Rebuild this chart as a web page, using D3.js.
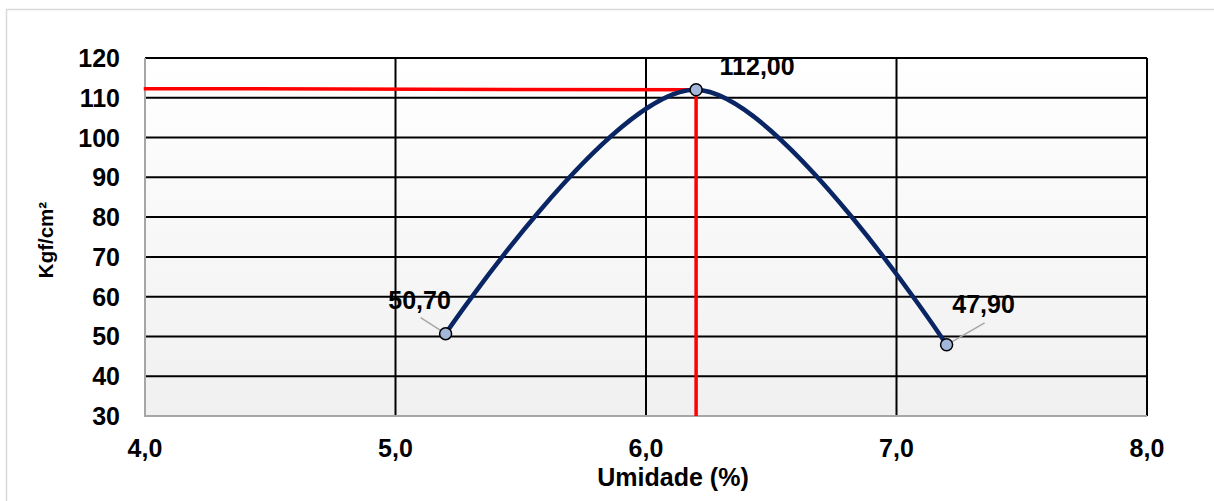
<!DOCTYPE html>
<html><head><meta charset="utf-8">
<script src="https://cdn.jsdelivr.net/npm/d3@7"></script>
<style>html,body{margin:0;padding:0;background:#fff;}svg{display:block;}</style>
</head><body>
<script>
const umidade = [5.2, 6.2, 7.2];
const resistencia = [50.70, 112.00, 47.90];
const labels = ["50,70", "112,00", "47,90"];
const refX = [3.995, 6.2, 6.2];
const refY = [112.3, 112.0, 30];
const xTicks = [4, 5, 6, 7, 8];
const yTicks = [30, 40, 50, 60, 70, 80, 90, 100, 110, 120];

const W = 1214, H = 501;
const svg = d3.select("body").append("svg").attr("width", W).attr("height", H);
const fmt1 = d => d.toFixed(1).replace(".", ",");

// outer frame
svg.append("rect").attr("x", 6.5).attr("y", 9.5).attr("width", 1300).attr("height", 600)
  .attr("fill", "#fff").attr("stroke", "#d9d9d9").attr("stroke-width", 1.5);

const L = 145, R = 1147, T = 58, B = 416;
const x = d3.scaleLinear().domain([4, 8]).range([L, R]);
const y = d3.scaleLinear().domain([30, 120]).range([B, T]);

const defs = svg.append("defs");
const g = defs.append("linearGradient").attr("id", "bg").attr("x1", 0).attr("y1", 0).attr("x2", 0).attr("y2", 1);
g.append("stop").attr("offset", "0%").attr("stop-color", "#ffffff");
g.append("stop").attr("offset", "100%").attr("stop-color", "#f0f0f0");
svg.append("rect").attr("x", L).attr("y", T).attr("width", R - L).attr("height", B - T).attr("fill", "url(#bg)");

// grid
svg.append("g").selectAll("line").data(yTicks.filter(d => d > 30)).join("line")
  .attr("x1", L).attr("x2", R).attr("y1", d => y(d)).attr("y2", d => y(d))
  .attr("stroke", "#000").attr("stroke-width", 2);
svg.append("g").selectAll("line").data(xTicks.filter(d => d > 4)).join("line")
  .attr("x1", d => x(d)).attr("x2", d => x(d)).attr("y1", T).attr("y2", B)
  .attr("stroke", "#000").attr("stroke-width", 2);

// axes lines (gray)
svg.append("line").attr("x1", L).attr("x2", L).attr("y1", T).attr("y2", B + 1).attr("stroke", "#a6a6a6").attr("stroke-width", 2);
svg.append("line").attr("x1", L).attr("x2", R).attr("y1", B).attr("y2", B).attr("stroke", "#a6a6a6").attr("stroke-width", 2);

// tick labels
const font = "Liberation Sans, Arial, sans-serif";
svg.append("g").selectAll("text").data(yTicks).join("text")
  .attr("x", 120).attr("y", d => y(d)).attr("dy", "0.36em")
  .attr("text-anchor", "end").attr("font-family", font).attr("font-weight", "bold").attr("font-size", 25)
  .text(d => d);
svg.append("g").selectAll("text").data(xTicks).join("text")
  .attr("x", d => x(d)).attr("y", 457)
  .attr("text-anchor", "middle").attr("font-family", font).attr("font-weight", "bold").attr("font-size", 25)
  .text(fmt1);

// axis titles
svg.append("text").attr("x", 673).attr("y", 486).attr("text-anchor", "middle")
  .attr("font-family", font).attr("font-weight", "bold").attr("font-size", 25).text("Umidade (%)");
svg.append("text").attr("transform", "translate(53,240) rotate(-90)").attr("text-anchor", "middle")
  .attr("font-family", font).attr("font-weight", "bold").attr("font-size", 20.5).text("Kgf/cm²");

// red reference lines
const refPts = refX.map((d, i) => [d, refY[i]]);
svg.append("path").datum(refPts)
  .attr("d", d3.line().x(d => x(d[0])).y(d => y(d[1])))
  .attr("fill", "none").attr("stroke", "#ff0000").attr("stroke-width", 3.5);

// curve
const pts = umidade.map((d, i) => [d, resistencia[i]]);
svg.append("path").datum(pts)
  .attr("d", d3.line().x(d => x(d[0])).y(d => y(d[1])).curve(d3.curveCardinal.tension(0)))
  .attr("fill", "none").attr("stroke", "#0a2564").attr("stroke-width", 4.5);

// leader lines
const leaders = [[-25, -16], null, [38, -22]];
svg.append("g").selectAll("line").data(pts.map((p, i) => [p, leaders[i]]).filter(d => d[1]))
  .join("line")
  .attr("x1", d => x(d[0][0])).attr("y1", d => y(d[0][1]))
  .attr("x2", d => x(d[0][0]) + d[1][0]).attr("y2", d => y(d[0][1]) + d[1][1])
  .attr("stroke", "#a6a6a6").attr("stroke-width", 1.5);

// markers
svg.append("g").selectAll("circle").data(pts).join("circle")
  .attr("cx", d => x(d[0])).attr("cy", d => y(d[1])).attr("r", 6)
  .attr("fill", "#a3b7da").attr("stroke", "#000").attr("stroke-width", 1.5);

// data labels
const lblOff = [[-26, -25], [61, -15], [37, -32]];
svg.append("g").selectAll("text").data(pts).join("text")
  .attr("x", (d, i) => x(d[0]) + lblOff[i][0]).attr("y", (d, i) => y(d[1]) + lblOff[i][1])
  .attr("text-anchor", "middle").attr("font-family", font).attr("font-weight", "bold").attr("font-size", 25)
  .text((d, i) => labels[i]);
</script>
</body></html>
